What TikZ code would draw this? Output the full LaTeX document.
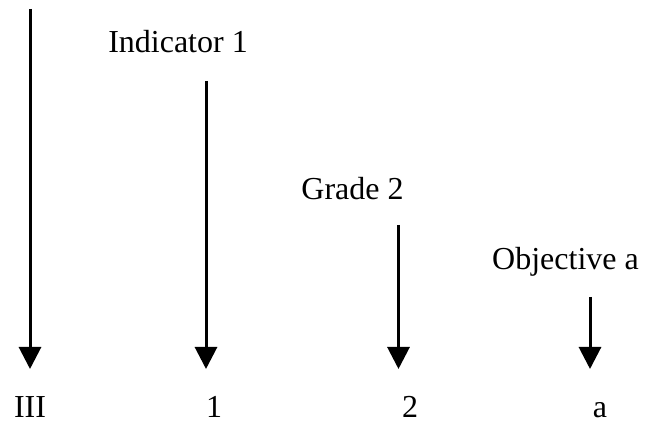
\documentclass[tikz,border=0pt]{standalone}
\usepackage{fontspec}
\setmainfont{Liberation Serif}
\usetikzlibrary{arrows.meta}
\begin{document}
\begin{tikzpicture}[x=1pt,y=1pt,
  lbl/.style={font=\fontsize{32}{38}\selectfont, inner sep=0pt, anchor=base},
  arr/.style={line width=3pt, -{Triangle[width=22pt,length=22pt]}}]
\useasboundingbox (0,0) rectangle (645,422);
% top labels
\node[lbl] (ind) at (178,369) {Indicator 1};
\node[lbl] (gra) at (352.5,222) {Grade 2};
\node[lbl] (obj) at (565.5,152) {Objective a};
% bottom labels
\node[lbl] (b1) at (30,4) {III};
\node[lbl] (b2) at (214,4) {1};
\node[lbl] (b3) at (410,4) {2};
\node[lbl] (b4) at (600,4) {a};
% arrow ends
\coordinate (s1) at (30,413);
\coordinate (e1) at (30,53);
\coordinate (s2) at (206,341);
\coordinate (e2) at (206,53);
\coordinate (s3) at (398.5,197);
\coordinate (e3) at (398.5,53);
\coordinate (s4) at (590,125);
\coordinate (e4) at (590,53);
\draw[arr] (s1) -- (e1);
\draw[arr] (s2) -- (e2);
\draw[arr] (s3) -- (e3);
\draw[arr] (s4) -- (e4);
\end{tikzpicture}
\end{document}
